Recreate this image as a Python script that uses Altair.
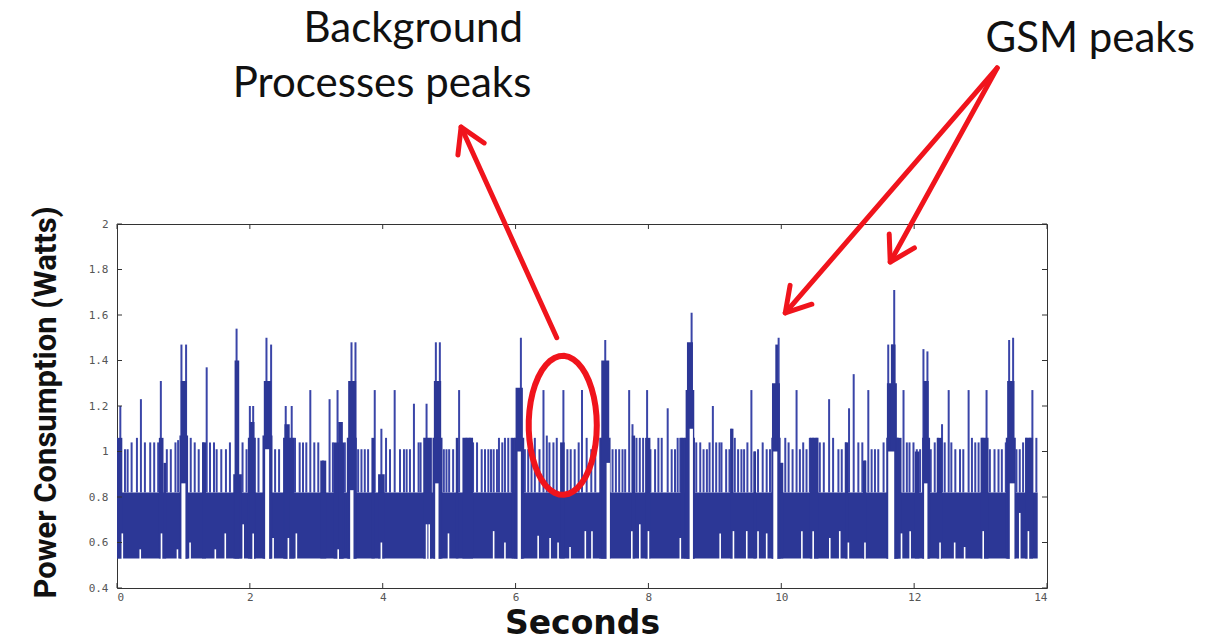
import math
import altair as alt
import pandas as pd

# ---------------- data ----------------
x_ticks = [0, 2, 4, 6, 8, 10, 12, 14]
y_ticks = [0.4, 0.6, 0.8, 1.0, 1.2, 1.4, 1.6, 1.8, 2.0]

# idle band of the trace (seconds, watts)
band_t0 = [0.0]
band_t1 = [13.86]
band_lo = [0.53]
band_hi = [0.82]

# thin background-process pulses rising from the band
spike_t = [0.05, 0.12, 0.16, 0.22, 0.30, 0.36, 0.42, 0.50, 0.56, 0.62, 0.66, 0.75, 0.81, 0.88, 0.92,
           1.11, 1.17, 1.23, 1.30, 1.35, 1.40, 1.46, 1.50, 1.57, 1.64, 1.70, 1.80, 1.89, 1.95, 2.00,
           2.05, 2.13, 2.38, 2.44, 2.54, 2.63, 2.68, 2.75, 2.80, 2.85, 2.91, 2.97, 3.03, 3.10, 3.20,
           3.25, 3.32, 3.43, 3.63, 3.68, 3.73, 3.78, 3.88, 3.98, 4.05, 4.11, 4.18, 4.26, 4.32, 4.36,
           4.41, 4.47, 4.54, 4.57, 4.66, 4.92, 4.96, 5.00, 5.06, 5.15, 5.26, 5.31, 5.36, 5.42, 5.49,
           5.54, 5.59, 5.63, 5.67, 5.72, 5.75, 5.80, 5.84, 5.89, 5.94, 6.14, 6.19, 6.24, 6.29, 6.36,
           6.42, 6.47, 6.51, 6.57, 6.62, 6.72, 6.78, 6.83, 6.89, 6.95, 7.00, 7.07, 7.14, 7.20, 7.46,
           7.51, 7.56, 7.61, 7.65, 7.71, 7.76, 7.82, 7.87, 7.92, 7.98, 8.03, 8.10, 8.15, 8.20, 8.29,
           8.35, 8.40, 8.44, 8.48, 8.51, 8.72, 8.78, 8.83, 8.88, 8.92, 8.97, 9.02, 9.07, 9.10, 9.17,
           9.22, 9.25, 9.30, 9.35, 9.40, 9.44, 9.49, 9.55, 9.60, 9.65, 9.72, 9.78, 9.83, 10.01, 10.06,
           10.11, 10.17, 10.23, 10.28, 10.33, 10.38, 10.43, 10.48, 10.53, 10.58, 10.64, 10.72, 10.78,
           10.86, 10.91, 10.97, 11.02, 11.09, 11.16, 11.22, 11.26, 11.31, 11.36, 11.41, 11.46, 11.54,
           11.76, 11.84, 11.89, 11.93, 11.99, 12.04, 12.09, 12.25, 12.31, 12.36, 12.42, 12.46, 12.52,
           12.56, 12.62, 12.69, 12.74, 12.82, 12.87, 12.92, 12.97, 13.03, 13.09, 13.14, 13.21, 13.27,
           13.32, 13.38, 13.54, 13.59, 13.64, 13.69, 13.74, 13.78, 13.84]
spike_h = [1.20, 1.01, 1.01, 1.04, 1.06, 1.23, 1.04, 1.04, 1.04, 1.04, 1.31, 1.01, 1.01, 1.04, 1.05,
           1.06, 1.04, 1.01, 1.04, 1.37, 1.04, 1.04, 1.01, 1.01, 1.01, 1.04, 1.54, 1.04, 1.01, 1.20,
           1.20, 1.06, 1.01, 1.01, 1.20, 1.20, 1.06, 1.04, 1.04, 1.04, 1.27, 1.04, 1.04, 0.96, 1.23,
           1.04, 1.27, 1.04, 1.01, 1.01, 1.01, 1.01, 1.27, 1.10, 1.06, 1.01, 1.27, 1.01, 1.01, 1.01,
           1.01, 1.21, 1.04, 1.04, 1.21, 1.01, 1.01, 1.01, 1.01, 1.27, 1.06, 1.06, 1.04, 1.04, 1.01,
           1.01, 1.01, 1.01, 1.01, 1.01, 1.06, 1.04, 1.06, 1.06, 1.06, 1.01, 1.01, 1.01, 1.06, 1.01,
           1.27, 1.07, 1.04, 1.04, 1.06, 1.27, 1.01, 1.01, 1.01, 1.04, 1.27, 1.06, 1.01, 1.04, 1.01,
           1.01, 1.01, 1.01, 1.01, 1.27, 1.12, 1.06, 1.06, 1.06, 1.27, 1.01, 1.01, 1.06, 1.06, 1.19,
           1.01, 1.01, 1.06, 1.06, 1.06, 1.04, 1.04, 1.01, 1.01, 1.04, 1.20, 1.04, 1.04, 1.04, 1.01,
           1.01, 1.10, 1.06, 1.01, 1.01, 1.01, 1.04, 1.27, 1.00, 1.01, 1.04, 1.01, 1.01, 0.95, 1.06,
           1.04, 1.01, 1.27, 1.01, 1.04, 1.01, 1.06, 1.06, 1.06, 1.04, 1.04, 1.23, 1.06,
           1.01, 1.01, 1.04, 1.19, 1.34, 1.04, 1.04, 0.96, 1.27, 1.01, 1.01, 1.01, 1.04,
           1.06, 1.27, 1.04, 1.04, 1.04, 1.01, 1.01, 1.01, 1.04, 1.06, 1.12, 1.04, 1.27,
           1.04, 1.01, 1.01, 1.01, 1.27, 1.06, 1.04, 1.04, 1.06, 1.27, 1.01, 1.01, 1.01,
           1.01, 1.04, 1.01, 1.01, 1.04, 1.06, 1.06, 1.27, 1.06]

# GSM burst pulses
gsm_t = [0.97, 1.04, 2.25, 2.32, 3.53, 3.59, 4.80, 4.86, 6.08, 7.35, 8.65, 9.96,
         11.61, 11.67, 11.70, 12.14, 12.20, 13.43, 13.49]
gsm_h = [1.47, 1.47, 1.50, 1.47, 1.48, 1.48, 1.48, 1.48, 1.50, 1.49, 1.61, 1.50,
         1.47, 1.47, 1.71, 1.45, 1.44, 1.49, 1.50]

# dense (filled-looking) stretches of the trace: start, end, top level
block_t0 = [0.00, 0.63, 0.70, 1.28, 1.75, 1.77, 1.97, 2.00, 2.50, 2.52, 3.06, 3.26, 3.33, 3.83,
            3.93, 4.61, 5.10, 5.20, 5.94, 6.67, 7.75, 7.95, 8.48, 9.23, 9.58, 9.98, 10.43, 10.96,
            11.23, 11.74, 12.01, 12.34, 13.00, 13.67,
            0.94, 0.96, 2.19, 2.21, 3.46, 3.48, 4.75, 4.77, 5.98, 6.00, 7.26, 7.29, 8.54, 8.56,
            8.58, 9.85, 9.86, 9.91, 11.58, 11.59, 11.65, 12.12, 12.14, 13.38, 13.40]
block_t1 = [0.08, 0.70, 0.74, 1.34, 1.88, 1.84, 2.09, 2.07, 2.67, 2.60, 3.15, 3.42, 3.40, 3.88,
            4.03, 4.74, 5.14, 5.36, 5.99, 6.74, 7.80, 8.03, 8.55, 9.28, 9.62, 10.03, 10.56, 11.01,
            11.28, 11.81, 12.08, 12.42, 13.12, 13.79,
            1.07, 1.05, 2.34, 2.32, 3.61, 3.60, 4.90, 4.88, 6.13, 6.11, 7.43, 7.41, 8.70, 8.69,
            8.67, 9.99, 9.98, 9.95, 11.76, 11.74, 11.72, 12.24, 12.22, 13.53, 13.51]
block_top = [1.06, 1.06, 0.95, 1.04, 0.90, 1.40, 1.06, 1.13, 1.06, 1.12, 0.96, 1.04, 1.13, 1.06,
             0.90, 1.06, 1.06, 1.06, 1.06, 1.04, 1.07, 1.06, 1.06, 1.10, 1.00, 0.95, 1.06, 1.04,
             0.96, 1.06, 1.00, 1.06, 1.06, 1.06,
             1.07, 1.31, 1.07, 1.31, 1.06, 1.31, 1.06, 1.31, 1.06, 1.28, 1.06, 1.40, 1.06, 1.27,
             1.48, 1.06, 1.30, 1.47, 1.06, 1.30, 1.47, 1.06, 1.31, 1.06, 1.31]

# white gaps under the GSM bursts: start, end, top level
gap_t0 = [0.97, 2.23, 3.51, 4.79, 6.03, 7.37, 8.62, 9.88, 11.61, 12.15, 13.44]
gap_t1 = [1.03, 2.29, 3.56, 4.84, 6.08, 7.42, 8.67, 9.94, 11.70, 12.20, 13.51]
gap_top = [0.86, 1.01, 0.83, 0.86, 1.00, 0.95, 1.10, 1.00, 1.00, 0.86, 0.86]

# short dips at the bottom of the band
notch_t = [0.08, 0.35, 0.67, 0.91, 1.10, 1.48, 1.63, 1.90, 2.05, 2.35, 2.58, 2.70, 3.33, 3.98,
           4.66, 4.70, 4.99, 5.67, 5.84, 6.34, 6.52, 6.64, 6.82, 7.05, 7.15, 7.75, 7.87, 8.00,
           8.48, 9.08, 9.28, 9.48, 9.65, 9.78, 10.31, 10.48, 10.73, 10.88, 11.01, 11.26, 11.81,
           11.94, 12.39, 12.61, 12.76, 13.04, 13.59, 13.72]
notch_top = [0.64, 0.57, 0.64, 0.57, 0.60, 0.57, 0.64, 0.68, 0.64, 0.62, 0.62, 0.64, 0.57, 0.60,
             0.68, 0.68, 0.64, 0.65, 0.60, 0.63, 0.62, 0.60, 0.58, 0.65, 0.65, 0.65, 0.68, 0.65,
             0.62, 0.64, 0.65, 0.65, 0.65, 0.64, 0.65, 0.65, 0.62, 0.65, 0.60, 0.60, 0.64,
             0.65, 0.60, 0.60, 0.58, 0.65, 0.73, 0.65]

# annotations (in data units)
label_text = ["Background", "Processes peaks", "GSM peaks"]
label_t = [4.46, 3.99, 14.65]
label_v = [2.80, 2.558, 2.756]

arrow_t0 = [6.62, 13.25, 13.25]
arrow_v0 = [1.50, 2.686, 2.686]
arrow_t1 = [5.18, 10.06, 11.64]
arrow_v1 = [2.426, 1.609, 1.833]

ellipse_t = [6.71]
ellipse_v = [1.115]

# ---------------- styling ----------------
W, H = 930, 364
PX_T = W / 14.0
PX_V = H / 1.6
BLUE = "#2c3796"
SPIKE = "#3a45a8"
RED = "#f0141c"

xs = alt.Scale(domain=[0, 14], nice=False, zero=False)
ys = alt.Scale(domain=[0.4, 2.0], nice=False, zero=False)

x_axis = alt.Axis(values=x_ticks, ticks=False, domain=False, grid=False,
                  labelFont="DejaVu Sans Mono", labelFontSize=11, labelColor="#555",
                  labelPadding=3, titleFont="DejaVu Sans", titleFontSize=33,
                  titleFontWeight="bold", titleColor="#111", titleY=45, titleX=W / 2,
                  titleAlign="center", titleBaseline="alphabetic")
y_axis = alt.Axis(values=y_ticks, format="~g", ticks=False, domain=False, grid=False,
                  labelFont="DejaVu Sans Mono", labelFontSize=11, labelColor="#555",
                  labelPadding=9, titleFont="Roboto",
                  titleFontSize=31, titleFontWeight="bold", titleColor="#111",
                  titleAngle=270, titleX=-62, titleY=178, titleAlign="center",
                  titleBaseline="alphabetic")


def X(f):
    return alt.X(f"{f}:Q", scale=xs, axis=x_axis, title="Seconds")


def Y(f):
    return alt.Y(f"{f}:Q", scale=ys, axis=y_axis, title="Power Consumption (Watts)")


band_df = pd.DataFrame({"t0": band_t0, "t1": band_t1, "lo": band_lo, "hi": band_hi})
spike_df = pd.DataFrame({"t": spike_t + gsm_t, "h": spike_h + gsm_h, "b": band_hi[0]})
block_df = pd.DataFrame({"t0": block_t0, "t1": block_t1, "top": block_top, "lo": band_lo[0]})
gap_df = pd.DataFrame({"t0": gap_t0, "t1": gap_t1, "top": gap_top, "lo": 0.5})
notch_df = pd.DataFrame({"t": notch_t, "top": notch_top, "lo": 0.515})
label_df = pd.DataFrame({"label": label_text, "t": label_t, "v": label_v})
arrow_df = pd.DataFrame({"t0": arrow_t0, "v0": arrow_v0, "t1": arrow_t1, "v1": arrow_v1})
arrow_df["ang"] = [
    math.degrees(math.atan2((a1 - a0) * PX_T, (b1 - b0) * PX_V)) % 360
    for a0, b0, a1, b1 in zip(arrow_t0, arrow_v0, arrow_t1, arrow_v1)
]
ell_df = pd.DataFrame({"t": ellipse_t, "v": ellipse_v})
xt_df = pd.DataFrame({"t": x_ticks})
yt_df = pd.DataFrame({"v": y_ticks})

band = alt.Chart(band_df).mark_rect(color=BLUE).encode(x=X("t0"), x2="t1", y=Y("lo"), y2="hi")
spikes = alt.Chart(spike_df).mark_rule(color=SPIKE, strokeWidth=2).encode(
    x=X("t"), y=Y("b"), y2="h")
blocks = alt.Chart(block_df).mark_rect(color=BLUE).encode(x=X("t0"), x2="t1", y=Y("lo"), y2="top")
gaps = alt.Chart(gap_df).mark_rect(color="white").encode(x=X("t0"), x2="t1", y=Y("lo"), y2="top")
notches = alt.Chart(notch_df).mark_rule(color="white", strokeWidth=1.6).encode(
    x=X("t"), y=Y("lo"), y2="top")

tick_kw = dict(color="#333", strokeWidth=1)
xt_bot = alt.Chart(xt_df).mark_rule(**tick_kw).encode(x=X("t"), y=alt.value(H), y2=alt.value(H - 5))
xt_top = alt.Chart(xt_df).mark_rule(**tick_kw).encode(x=X("t"), y=alt.value(0), y2=alt.value(5))
yt_left = alt.Chart(yt_df).mark_rule(**tick_kw).encode(y=Y("v"), x=alt.value(0), x2=alt.value(5))
yt_right = alt.Chart(yt_df).mark_rule(**tick_kw).encode(y=Y("v"), x=alt.value(W), x2=alt.value(W - 5))

labels = alt.Chart(label_df).mark_text(font="Lato", fontSize=42, color="#111", align="center",
                                       baseline="alphabetic").encode(x=X("t"), y=Y("v"), text="label")
arrows = alt.Chart(arrow_df).mark_rule(color=RED, strokeWidth=5, strokeCap="round").encode(
    x=X("t0"), y=Y("v0"), x2="t1", y2="v1")
heads = alt.Chart(arrow_df).mark_point(shape="M -0.6 1 L 0 0 L 0.6 1", filled=False, size=2304,
                                       strokeWidth=5, color=RED, opacity=1, strokeCap="round",
                                       strokeJoin="round").encode(
    x=X("t1"), y=Y("v1"), angle=alt.Angle("ang:Q", scale=None))

ell_pts = []
for k in range(0, 360, 8):
    a = math.radians(k)
    ell_pts.append(f"{0.49 * math.cos(a):.4f} {math.sin(a):.4f}")
ELLIPSE = "M " + " L ".join(ell_pts) + " Z"
ellipse = alt.Chart(ell_df).mark_point(shape=ELLIPSE, filled=False, size=139 ** 2, strokeWidth=6,
                                       color=RED, opacity=1).encode(x=X("t"), y=Y("v"))

chart = alt.layer(
    band, spikes, blocks, gaps, notches,
    xt_bot, xt_top, yt_left, yt_right,
    arrows, heads, ellipse, labels,
).properties(
    width=W, height=H,
    padding={"left": 117, "top": 224, "right": 165, "bottom": 53},
    autosize=alt.AutoSizeParams(type="none"),
    background="white",
).configure_view(stroke="#333", strokeWidth=1)

chart.save("out.html", embed_options={"renderer": "svg", "actions": False})
